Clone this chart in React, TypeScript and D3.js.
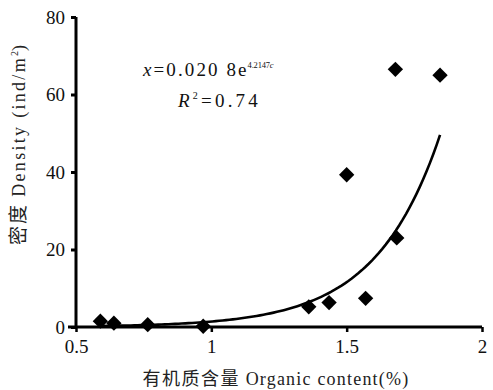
import React, { useEffect, useRef } from "react";
import * as d3 from "d3";

// Organic content (%) vs density (ind/m²)
const organic = [0.59, 0.64, 0.765, 0.97, 1.36, 1.435, 1.57, 1.5, 1.685, 1.68, 1.845];
const density = [1.5, 1, 0.6, 0.2, 5.2, 6.3, 7.4, 39.3, 23, 66.5, 65];
const xTicks = [0.5, 1, 1.5, 2];
const yTicks = [0, 20, 40, 60, 80];
// trendline coefficients as printed on the chart
const fitA = 0.0208;
const fitB = 4.2147;

const W = 493;
const H = 390;

export default function App() {
  const svgRef = useRef<SVGSVGElement>(null);

  useEffect(() => {
    if (!svgRef.current) return;
    const svg = d3.select(svgRef.current);
    svg.selectAll("*").remove();

    const serif = "Liberation Serif, DejaVu Serif, serif";
    const cjk = "Noto Sans CJK SC, sans-serif";
    const x = d3.scaleLinear().domain([0.5, 2]).range([76, 482]);
    const y = d3.scaleLinear().domain([0, 80]).range([327, 17]);

    // Axe Y
    svg.append("g")
      .attr("transform", `translate(${x(0.5)},0)`)
      .call(d3.axisLeft(y).tickValues(yTicks).tickSize(5).tickPadding(6).tickFormat(d3.format("d")))
      .call(g => g.attr("font-family", null).attr("font-size", null))
      .call(g => g.select(".domain").attr("stroke", "#000").attr("stroke-width", 3)
        .attr("d", `M0,${y(0)}V${y(80)}`))
      .call(g => g.selectAll(".tick line").attr("stroke-width", 3))
      .call(g => g.selectAll(".tick text")
        .attr("fill", "#111").style("font-family", serif).style("font-size", "19px"));

    // Axe X
    svg.append("g")
      .attr("transform", `translate(0,${y(0)})`)
      .call(d3.axisBottom(x).tickValues(xTicks).tickSize(5).tickPadding(8).tickFormat(d => String(d)))
      .call(g => g.attr("font-family", null).attr("font-size", null))
      .call(g => g.select(".domain").attr("stroke", "#000").attr("stroke-width", 3)
        .attr("d", `M${x(0.5) - 8},0H${x(2)}`))
      .call(g => g.selectAll(".tick line").attr("stroke-width", 2.5))
      .call(g => g.selectAll(".tick text")
        .attr("fill", "#111").style("font-family", serif).style("font-size", "19px"));

    // Courbe de tendance
    const [c0, c1] = d3.extent(organic) as [number, number];
    const curveData = d3.range(0, 101).map(i => {
      const c = c0 + ((c1 - c0) * i) / 100;
      return [c, fitA * Math.exp(fitB * c)] as [number, number];
    });
    svg.append("path")
      .datum(curveData)
      .attr("fill", "none")
      .attr("stroke", "#000")
      .attr("stroke-width", 2.6)
      .attr("d", d3.line<[number, number]>().x(d => x(d[0])).y(d => y(d[1])));

    // Points
    const diamond = d3.symbol().type(d3.symbolDiamond2).size(150);
    svg.append("g")
      .selectAll("path")
      .data(organic.map((c, i) => [c, density[i]]))
      .join("path")
      .attr("transform", d => `translate(${x(d[0])},${y(d[1])})`)
      .attr("d", diamond)
      .attr("fill", "#000");

    // Équation
    const eq = svg.append("text")
      .attr("x", 143).attr("y", 76)
      .style("font-family", serif).style("font-size", "19px").attr("fill", "#111");
    eq.append("tspan").style("letter-spacing", "2.1px").attr("font-style", "italic").text("x");
    eq.append("tspan").style("letter-spacing", "2.1px").text("=0.020 8e");
    eq.append("tspan").attr("dx", -1).attr("dy", -8).style("font-size", "8.5px")
      .style("letter-spacing", "-0.2px").text("4.2147");
    eq.append("tspan").style("font-size", "8.5px").attr("font-style", "italic").text("c");

    const r2 = svg.append("text")
      .attr("x", 178).attr("y", 107)
      .style("font-family", serif).style("font-size", "19px")
      .style("letter-spacing", "3.2px").attr("fill", "#111");
    r2.append("tspan").attr("font-style", "italic").text("R");
    r2.append("tspan").attr("dy", -8).style("font-size", "10px").text("2");
    r2.append("tspan").attr("dy", 8).text("=0.74");

    // Titres des axes
    const xt = svg.append("text")
      .attr("x", 276).attr("y", 385)
      .attr("text-anchor", "middle")
      .style("font-size", "18px").attr("fill", "#222");
    xt.append("tspan").style("font-family", cjk).style("font-size", "18px")
      .style("letter-spacing", "1.5px").text("有机质含量 ");
    xt.append("tspan").style("font-family", serif)
      .style("letter-spacing", "1.2px").text("Organic content(%)");

    const yt = svg.append("text")
      .attr("transform", `translate(25,${145}) rotate(-90)`)
      .attr("text-anchor", "middle")
      .style("font-size", "18px").attr("fill", "#222");
    yt.append("tspan").style("font-family", cjk).style("font-size", "19px")
      .style("letter-spacing", "2px").text("密度 ");
    yt.append("tspan").style("font-family", serif)
      .style("letter-spacing", "2.3px").text("Density (ind/m");
    yt.append("tspan").attr("dy", -7).style("font-family", serif).style("font-size", "10px").text("2");
    yt.append("tspan").attr("dy", 7).style("font-family", serif).text(")");
  }, []);

  return (
    <svg
      ref={svgRef}
      width={W}
      height={H}
      style={{ position: "absolute", left: 0, top: 0, background: "#fff" }}
    />
  );
}
